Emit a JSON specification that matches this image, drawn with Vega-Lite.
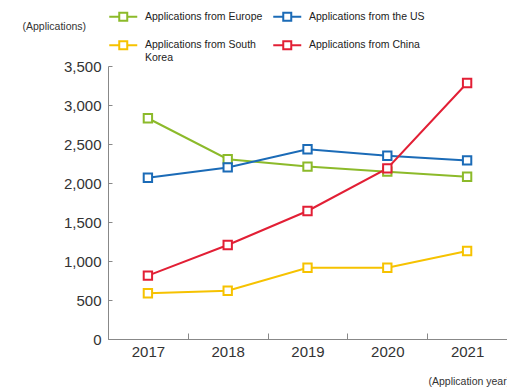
{
  "$schema": "https://vega.github.io/schema/vega-lite/v6.json",
  "autosize": "none",
  "width": 399,
  "height": 273,
  "padding": {"left": 108, "top": 66, "right": 0, "bottom": 48},
  "background": "white",
  "config": {
    "view": {"stroke": null},
    "font": "Liberation Sans"
  },
  "data": {
    "values": [
      {"year": "2017", "region": "Applications from Europe", "apps": 2830},
      {"year": "2018", "region": "Applications from Europe", "apps": 2305},
      {"year": "2019", "region": "Applications from Europe", "apps": 2210},
      {"year": "2020", "region": "Applications from Europe", "apps": 2145},
      {"year": "2021", "region": "Applications from Europe", "apps": 2080},
      {"year": "2017", "region": "Applications from the US", "apps": 2068},
      {"year": "2018", "region": "Applications from the US", "apps": 2200},
      {"year": "2019", "region": "Applications from the US", "apps": 2432},
      {"year": "2020", "region": "Applications from the US", "apps": 2350},
      {"year": "2021", "region": "Applications from the US", "apps": 2290},
      {"year": "2017", "region": "Applications from South Korea", "apps": 586},
      {"year": "2018", "region": "Applications from South Korea", "apps": 619},
      {"year": "2019", "region": "Applications from South Korea", "apps": 914},
      {"year": "2020", "region": "Applications from South Korea", "apps": 914},
      {"year": "2021", "region": "Applications from South Korea", "apps": 1128},
      {"year": "2017", "region": "Applications from China", "apps": 812},
      {"year": "2018", "region": "Applications from China", "apps": 1205},
      {"year": "2019", "region": "Applications from China", "apps": 1641},
      {"year": "2020", "region": "Applications from China", "apps": 2188},
      {"year": "2021", "region": "Applications from China", "apps": 3282}
    ]
  },
  "encoding": {
    "x": {
      "field": "year",
      "type": "ordinal",
      "scale": {"type": "band", "paddingInner": 0, "paddingOuter": 0},
      "axis": {
        "title": "(Application year)",
        "titleFontSize": 10.5,
        "titleFontWeight": "normal",
        "titleColor": "#333",
        "titleAnchor": "start",
        "titleAlign": "left",
        "titleBaseline": "middle",
        "titleX": 320,
        "titleY": 42,
        "labelAngle": 0,
        "labelFontSize": 15,
        "labelColor": "#333",
        "labelPadding": 11,
        "domainColor": "#888",
        "tickColor": "#888",
        "tickSize": -6,
        "tickBand": "extent"
      }
    },
    "y": {
      "field": "apps",
      "type": "quantitative",
      "scale": {"domain": [0, 3500], "nice": false},
      "axis": {
        "values": [0, 500, 1000, 1500, 2000, 2500, 3000, 3500],
        "format": ",d",
        "grid": false,
        "title": "(Applications)",
        "titleAngle": 0,
        "titleFontSize": 10.5,
        "titleFontWeight": "normal",
        "titleColor": "#333",
        "titleAlign": "left",
        "titleBaseline": "middle",
        "titleX": -86,
        "titleY": -40,
        "labelFontSize": 15,
        "labelColor": "#333",
        "labelPadding": 11,
        "domainColor": "#888",
        "tickColor": "#888",
        "tickSize": -4
      }
    },
    "color": {
      "field": "region",
      "type": "nominal",
      "scale": {
        "domain": ["Applications from Europe", "Applications from the US", "Applications from South Korea", "Applications from China"],
        "range": ["#8CBA2A", "#1B6BB7", "#F6C200", "#E21F35"]
      },
      "legend": {
        "title": null,
        "orient": "none",
        "direction": "horizontal",
        "legendX": 10,
        "legendY": -55,
        "columns": 2,
        "columnPadding": 6,
        "rowPadding": 12,
        "symbolType": "M-3.5,0H-1M1,0H3.5M-1,-1H1V1H-1Z",
        "symbolSize": 64,
        "symbolStrokeWidth": 2,
        "symbolFillColor": "white",
        "labelFontSize": 10.5,
        "labelColor": "#222",
        "labelOffset": 16.5,
        "labelLimit": 200,
        "labelExpr": "datum.label == 'Applications from South Korea' ? ['Applications from South', 'Korea'] : datum.label"
      }
    }
  },
  "layer": [
    {"mark": {"type": "line", "strokeWidth": 2}},
    {"mark": {"type": "point", "shape": "square", "filled": false, "fill": "white", "size": 70, "strokeWidth": 2, "opacity": 1}}
  ]
}
